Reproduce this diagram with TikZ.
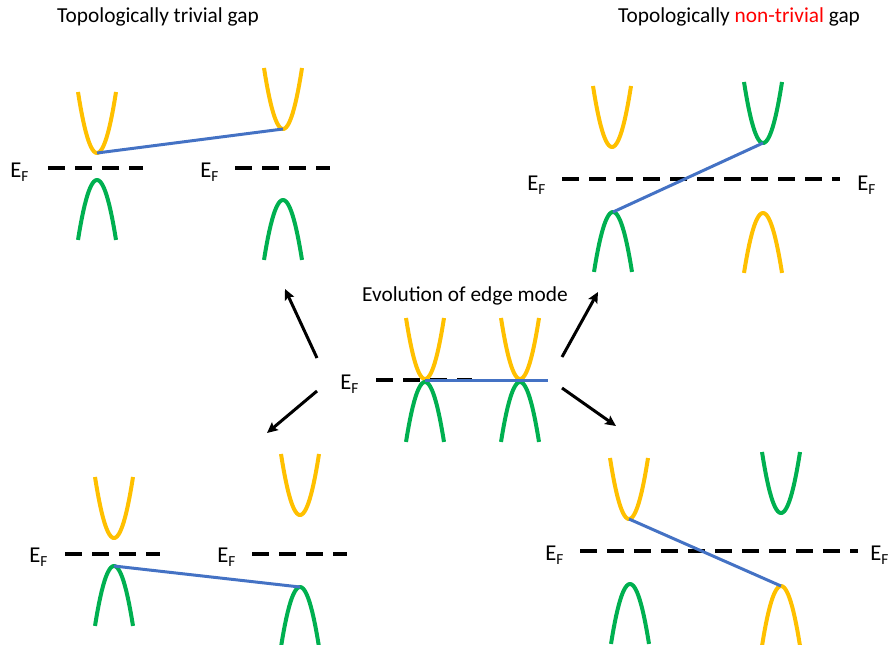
\documentclass[tikz,border=0pt]{standalone}
\usepackage{fontspec}
\setmainfont{Carlito}
\usepackage{tikz}
\usetikzlibrary{arrows.meta}
\usepackage{xcolor}
\definecolor{bandorange}{HTML}{FFC000}
\definecolor{bandgreen}{HTML}{00B050}
\definecolor{edgeblue}{HTML}{4472C4}
\newcommand{\EF}{E\raisebox{-3pt}{\fontsize{11.5}{12}\selectfont F}}
\newcommand{\valley}[4]{\coordinate (#1) at (#3,#4);
  \draw[band,#2] plot[domain=-19:19,samples=30] ({#3+\x},{#4-0.169*\x*\x});}
\newcommand{\hill}[4]{\coordinate (#1) at (#3,#4);
  \draw[band,#2] plot[domain=-19:19,samples=30] ({#3+\x},{#4+0.166*\x*\x});}

\begin{document}
\begin{tikzpicture}[x=0.75pt,y=-0.75pt,>={Stealth[length=8pt,width=7.5pt,inset=1.5pt]},
  band/.style={line width=3pt},
  fermi/.style={line width=3pt,dash pattern=on 12.75pt off 7.5pt},
  edgemode/.style={edgeblue,line width=2.25pt},
  evo/.style={->,line width=2.25pt},
  lbl/.style={font=\fontsize{16}{19}\selectfont},
  ef/.style={font=\fontsize{17}{20}\selectfont,anchor=base west,inner sep=0pt}]
  \useasboundingbox (0,0) rectangle (891,644);
  \node[lbl] (ttriv) at (158,17) {Topologically trivial gap};
  \node[lbl] (tnon) at (739,17) {Topologically \textcolor{red}{non-trivial} gap};
  \node[lbl] (tevo) at (465,296) {Evolution of edge mode};
  % top left
  \node[ef] (ef1) at (10,177) {\EF};
  \node[ef] (ef2) at (200,177) {\EF};
  \draw[fermi] (48,168) -- (143,168);
  \draw[fermi] (235,168) -- (330,168);
  \valley{tlc1}{bandorange}{97}{153} \hill{tlv1}{bandgreen}{97}{180}
  \valley{tlc2}{bandorange}{283}{129} \hill{tlv2}{bandgreen}{283}{200}
  \draw[edgemode] (tlc1) -- (tlc2);
  % top right
  \node[ef] (ef3) at (527,190) {\EF};
  \node[ef] (ef4) at (857,190) {\EF};
  \draw[fermi] (562,179) -- (840,179);
  \valley{trc1}{bandorange}{612}{147} \hill{trv1}{bandgreen}{613}{212}
  \valley{trc2}{bandgreen}{763}{143} \hill{trv2}{bandorange}{763}{213}
  \draw[edgemode] (trv1) -- (trc2);
  % centre
  \node[ef] (ef5) at (340,389) {\EF};
  \draw[fermi] (376,380) -- (472,380);
  \valley{cc1}{bandorange}{425}{379} \hill{cv1}{bandgreen}{425}{382}
  \valley{cc2}{bandorange}{520}{379} \hill{cv2}{bandgreen}{520}{382}
  \coordinate (cend) at (548,380);
  \draw[edgemode] (425,380) -- (cend);
  % bottom left
  \node[ef] (ef6) at (29,562) {\EF};
  \node[ef] (ef7) at (217,562) {\EF};
  \draw[fermi] (65,554) -- (160,554);
  \draw[fermi] (252,554) -- (347,554);
  \valley{blc1}{bandorange}{114}{538} \hill{blv1}{bandgreen}{114}{566}
  \valley{blc2}{bandorange}{300}{515} \hill{blv2}{bandgreen}{300}{587}
  \draw[edgemode] (blv1) -- (blv2);
  % bottom right
  \node[ef] (ef8) at (545,560) {\EF};
  \node[ef] (ef9) at (870,560) {\EF};
  \draw[fermi] (580,551) -- (858,551);
  \valley{brc1}{bandorange}{629}{519} \hill{brv1}{bandgreen}{630}{584}
  \valley{brc2}{bandgreen}{781}{513} \hill{brv2}{bandorange}{781}{586}
  \draw[edgemode] (brc1) -- (brv2);
  % arrows
  \coordinate (a1s) at (317,358); \coordinate (a1e) at (285,289);
  \coordinate (a2s) at (317,391); \coordinate (a2e) at (267,433);
  \coordinate (a3s) at (562,357); \coordinate (a3e) at (598,292);
  \coordinate (a4s) at (562,388); \coordinate (a4e) at (616,426);
  \draw[evo] (a1s) -- (a1e);
  \draw[evo] (a2s) -- (a2e);
  \draw[evo] (a3s) -- (a3e);
  \draw[evo] (a4s) -- (a4e);
\end{tikzpicture}
\end{document}
